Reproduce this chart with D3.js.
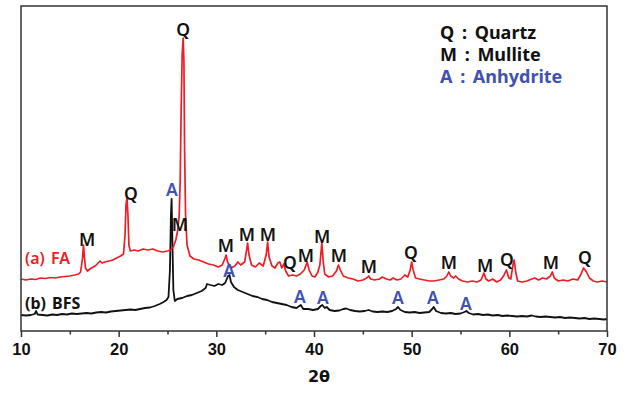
<!DOCTYPE html>
<html>
<head>
<meta charset="utf-8">
<script src="https://cdn.jsdelivr.net/npm/d3@7"></script>
<style>
  body { margin: 0; background: #fff; }
  svg { display: block; font-family: "Noto Sans", "DejaVu Sans", sans-serif; }
</style>
</head>
<body>
<svg id="chart" width="629" height="394"></svg>
<script>
// XRD patterns, 2theta (deg) vs intensity (a.u.)
var faTheta = [10.0,10.5,11.0,11.5,12.0,12.5,13.0,13.5,14.0,14.5,15.0,15.5,15.9,16.1,16.3,16.4,16.5,16.6,16.8,17.2,17.6,17.9,18.1,18.3,18.6,19.0,19.4,19.8,20.2,20.5,20.65,20.75,20.85,20.95,21.05,21.2,21.6,22.0,22.5,23.0,23.5,24.0,24.5,25.0,25.3,25.6,25.85,26.05,26.2,26.3,26.4,26.5,26.6,26.68,26.75,26.85,27.0,27.3,27.7,28.2,28.7,29.2,29.7,30.2,30.6,30.9,31.0,31.15,31.5,31.9,32.2,32.5,32.9,33.1,33.2,33.35,33.6,34.0,34.4,34.8,35.1,35.25,35.4,35.7,36.0,36.3,36.5,36.7,36.9,37.1,37.4,37.8,38.2,38.6,39.0,39.3,39.5,39.8,40.1,40.4,40.6,40.8,40.95,41.1,41.5,41.9,42.3,42.5,42.7,43.0,43.5,44.0,44.5,45.0,45.4,45.6,45.8,46.2,46.7,47.0,47.4,47.8,48.1,48.5,48.9,49.3,49.6,49.85,50.0,50.15,50.4,50.8,51.3,51.8,52.3,52.8,53.3,53.6,53.8,54.0,54.3,54.5,54.8,55.2,55.7,56.2,56.7,57.1,57.4,57.6,57.9,58.3,58.7,59.1,59.4,59.7,59.95,60.15,60.35,60.5,60.65,60.85,61.3,61.8,62.3,62.6,63.0,63.4,63.8,64.2,64.4,64.6,65.0,65.5,66.0,66.5,67.0,67.3,67.6,67.9,68.2,68.6,69.0,69.5,70.0];
var faInt = [52,51,52,51.5,53,52.5,53.5,53,54,54.5,55,56,57,59,73,86,73,63,60,63,65,68,70,68,69,70,71,73,75,77,96,126,134,116,86,80,81,80,82,81,82,80,79,80,81,84,91,101,116,151,221,276,293,271,181,116,86,75,72,71,69,67,66,64,66,73,76,69,63,65,69,66,69,81,88,76,66,64,68,65,76,89,74,65,63,68,69,63,67,60,55,56,55,57,61,69,61,55,54,59,66,88,69,57,54,55,60,66,61,55,53,52,50,51,53,55,52,51,52,54,52,51,53,51,52,56,54,61,69,61,53,52,51,50,50,51,52,55,59,55,53,55,52,50,49,50,49,51,58,52,50,52,49,51,55,61,53,52,65,71,59,50,49,50,52,53,51,53,52,55,59,53,50,51,50,52,51,56,63,59,53,50,49,50,49];

var bfsTheta = [10.0,10.5,11.0,11.4,11.55,11.7,12.2,12.7,13.2,13.7,14.2,14.7,15.2,15.7,16.2,16.7,17.2,17.7,18.2,18.7,19.2,19.7,20.2,20.7,21.2,21.7,22.2,22.7,23.2,23.7,24.2,24.6,24.9,25.1,25.25,25.35,25.42,25.5,25.6,25.75,26.0,26.5,27.0,27.5,28.0,28.5,28.9,29.05,29.4,29.8,30.2,30.6,30.9,31.2,31.35,31.5,31.8,32.2,32.7,33.2,33.7,34.2,34.7,35.2,35.7,36.2,36.7,37.2,37.7,38.2,38.5,38.65,38.9,39.4,39.9,40.4,40.7,40.85,41.1,41.3,41.6,42.1,42.6,43.0,43.3,43.7,44.2,44.7,45.2,45.6,46.0,46.5,47.0,47.5,48.0,48.4,48.6,48.85,49.3,49.8,50.3,50.8,51.3,51.8,52.1,52.25,52.5,53.0,53.5,54.0,54.5,55.0,55.4,55.6,55.85,56.3,56.8,57.3,57.8,58.3,58.8,59.3,59.8,60.3,60.8,61.3,61.8,62.3,62.7,63.2,63.7,64.2,64.7,65.2,65.7,66.2,66.7,67.2,67.7,68.2,68.7,69.2,69.7,70.0];
var bfsInt = [16,15.5,16,17,20,16.5,16,15.5,16.5,16,17,16.5,17.5,17,17.5,18,17.5,18.5,19,18.5,19.5,20,20.5,21,21.5,21,22,23,23.5,25,27,29,31,34,61,116,132,91,41,30,32,33,35,36,38,40,43,47,46,45,47,46,48,55,56,49,44,41,39,37,35,34,32,31,29,28,27,26,24,23,25,26,22,22,21,22,25,26,23,24,21,20,20.5,22,22.5,21,20,19.5,20,21,19.5,19,19.5,19,20,22,24,21,19,18.5,19,18,18.5,19,22,24,20,18,17.5,18,17,17.5,19,20,18,16.5,17,16,16.5,15.5,16,15,15.5,15,14.5,15,14.5,15.5,14.5,14,14.5,14,13.5,14,13,13.5,13,12.5,13,12,12.5,12,11.5,12];

// peak markers: phase letter, 2theta and intensity where the letter sits
var faMarkPhase = ["M","Q","Q","M","M","M","M","Q","M","M","M","M","Q","M","M","Q","M","Q"];
var faMarkTheta = [16.76,21.26,26.59,26.28,30.99,33.14,35.29,37.54,39.18,40.82,42.56,45.63,49.93,53.82,57.51,59.76,64.26,67.74];
var faMarkInt = [91,137,301,106,85,96,96,68,75,94,75,64,78,68,65,71,68,73];

var anhMarkTheta = [25.46,31.3,38.56,40.92,48.6,52.18,55.56];
var anhMarkInt = [141,60,34,33,33,33,27];

var legendText = ["Q : Quartz", "M : Mullite", "A : Anhydrite"];
var legendColor = ["#111", "#111", "#3f51b3"];

var xMajor = [10,20,30,40,50,60,70];
var xMinor = [15,25,35,45,55,65];

var svg = d3.select("#chart");
var margin = {top: 6, right: 22, bottom: 63, left: 21},
  width = 629 - margin.left - margin.right,
  height = 394 - margin.top - margin.bottom;

var g = svg.append("g")
  .attr("transform", "translate(" + margin.left + "," + margin.top + ")");

var x = d3.scaleLinear().domain([10, 70]).range([0, width]);
var y = d3.scaleLinear().domain([0, 325]).range([height, 0]);

var red = "#ee1d25", blue = "#3f51b3";

// axis ticks
var xAxis = d3.axisBottom(x).tickValues(xMajor).tickSize(6).tickSizeOuter(0);
var ax = g.append("g")
  .attr("transform", "translate(0," + height + ")")
  .call(xAxis);
ax.select(".domain").remove();
ax.selectAll(".tick line").attr("stroke", "#333").attr("stroke-width", 1.5);
ax.selectAll(".tick text")
  .attr("y", 12)
  .attr("dy", "0.71em")
  .style("font-family", "'Liberation Sans', Arial, sans-serif")
  .style("font-size", "16.5px")
  .style("font-weight", "bold")
  .style("fill", "#111");

var axMinor = g.append("g")
  .attr("transform", "translate(0," + height + ")")
  .call(d3.axisBottom(x).tickValues(xMinor).tickSize(3.5).tickFormat(""));
axMinor.select(".domain").remove();
axMinor.selectAll(".tick line").attr("stroke", "#333").attr("stroke-width", 1.5);

g.append("text")
  .attr("x", width / 2 + 5)
  .attr("y", height + 51)
  .attr("text-anchor", "middle")
  .style("font-family", "'DejaVu Sans', sans-serif")
  .style("font-size", "16px")
  .style("font-weight", "bold")
  .style("fill", "#111")
  .text("2\u03b8");

var line = d3.line()
  .x(function(d) { return x(d[0]); })
  .y(function(d) { return y(d[1]); });

var bfs = d3.zip(bfsTheta, bfsInt);
var fa = d3.zip(faTheta, faInt);

g.append("path")
  .datum(bfs)
  .attr("fill", "none")
  .attr("stroke", "#111")
  .attr("stroke-width", 1.8)
  .attr("stroke-linejoin", "round")
  .attr("d", line);

g.append("path")
  .datum(fa)
  .attr("fill", "none")
  .attr("stroke", red)
  .attr("stroke-width", 1.7)
  .attr("stroke-linejoin", "round")
  .attr("d", line);

// frame
g.append("rect")
  .attr("x", 0).attr("y", 0)
  .attr("width", width).attr("height", height)
  .attr("fill", "none")
  .attr("stroke", "#333")
  .attr("stroke-width", 1.5);

// phase labels
g.selectAll(".fa-mark")
  .data(d3.range(faMarkPhase.length))
  .enter().append("text")
  .attr("class", "fa-mark")
  .attr("x", function(i) { return x(faMarkTheta[i]); })
  .attr("y", function(i) { return y(faMarkInt[i]); })
  .attr("dy", "0.36em")
  .attr("text-anchor", "middle")
  .style("font-size", "17.5px")
  .style("font-weight", 600)
  .style("fill", "#111")
  .text(function(i) { return faMarkPhase[i]; });

g.selectAll(".a-mark")
  .data(d3.range(anhMarkTheta.length))
  .enter().append("text")
  .attr("class", "a-mark")
  .attr("x", function(i) { return x(anhMarkTheta[i]); })
  .attr("y", function(i) { return y(anhMarkInt[i]); })
  .attr("dy", "0.36em")
  .attr("text-anchor", "middle")
  .style("font-size", "17.5px")
  .style("font-weight", 600)
  .style("fill", blue)
  .text("A");

// series names
g.append("text")
  .attr("x", 4).attr("y", 252)
  .attr("dy", "0.36em")
  .style("font-size", "16px")
  .style("font-weight", 600)
  .style("word-spacing", "2px")
  .style("fill", red)
  .text("(a) FA");

g.append("text")
  .attr("x", 4).attr("y", 297)
  .attr("dy", "0.36em")
  .style("font-size", "16px")
  .style("font-weight", 700)
  .style("word-spacing", "2px")
  .style("fill", "#111")
  .text("(b) BFS");

// legend
g.selectAll(".legend")
  .data(legendText)
  .enter().append("text")
  .attr("class", "legend")
  .attr("x", 419)
  .attr("y", function(d, i) { return 27 + i * 22; })
  .attr("dy", "0.36em")
  .style("font-size", "18px")
  .style("font-weight", 700)
  .style("word-spacing", "3px")
  .style("fill", function(d, i) { return legendColor[i]; })
  .text(function(d) { return d; });
</script>
</body>
</html>
